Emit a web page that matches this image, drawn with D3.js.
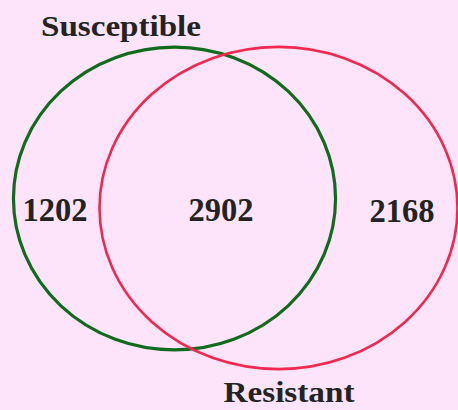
<!DOCTYPE html>
<html>
<head>
<meta charset="utf-8">
<script src="https://cdn.jsdelivr.net/npm/d3@7"></script>
<style>
  html, body { margin: 0; padding: 0; background: #fde4fb; }
  svg { display: block; }
  text { font-family: "Liberation Serif", "DejaVu Serif", serif; font-weight: bold; fill: #232323; }
</style>
</head>
<body>
<svg id="chart" width="458" height="410"></svg>
<script>
// Data
const setNames = ["Susceptible", "Resistant"];
const regionLabels = ["Susceptible only", "Both", "Resistant only"];
const regionValues = [1202, 2902, 2168];
const setColors = ["#116b1c", "#f2284f"];

// Set totals derived from region values
const setTotals = [regionValues[0] + regionValues[1], regionValues[1] + regionValues[2]];

const W = 458, H = 410;
const svg = d3.select("#chart");
svg.append("rect").attr("width", W).attr("height", H).attr("fill", "#fde4fb");

// Area-proportional radius scale
const r = d3.scaleSqrt().domain([0, d3.max(setTotals)]).range([0, 179]);

// layout
const layout = [
  { cx: 174.5, cy: 198.5, aspect: 0.94, sw: 3.2 },
  { cx: 278.5, cy: 208, aspect: 0.90, sw: 2.6 }
];

const g = svg.append("g");
g.selectAll("ellipse")
  .data(setTotals)
  .join("ellipse")
  .attr("cx", (d, i) => layout[i].cx)
  .attr("cy", (d, i) => layout[i].cy)
  .attr("rx", d => r(d))
  .attr("ry", (d, i) => r(d) * layout[i].aspect)
  .attr("fill", "none")
  .attr("stroke", (d, i) => setColors[i])
  .attr("stroke-width", (d, i) => layout[i].sw);

// set name labels
const nameLayout = [
  { x: 121, y: 36, len: 160 },
  { x: 289, y: 402, len: 131 }
];
svg.selectAll("text.setname")
  .data(setNames)
  .join("text")
  .attr("class", "setname")
  .attr("x", (d, i) => nameLayout[i].x)
  .attr("y", (d, i) => nameLayout[i].y)
  .attr("text-anchor", "middle")
  .attr("font-size", 30)
  .attr("textLength", (d, i) => nameLayout[i].len)
  .attr("lengthAdjust", "spacingAndGlyphs")
  .text(d => d);

// region value labels
const valueLayout = [
  { x: 55, y: 221 },
  { x: 221, y: 221 },
  { x: 402, y: 222 }
];
svg.selectAll("text.value")
  .data(regionValues)
  .join("text")
  .attr("class", "value")
  .attr("x", (d, i) => valueLayout[i].x)
  .attr("y", (d, i) => valueLayout[i].y)
  .attr("text-anchor", "middle")
  .attr("font-size", 34)
  .attr("textLength", 65)
  .attr("lengthAdjust", "spacingAndGlyphs")
  .text(d => d);
</script>
</body>
</html>
